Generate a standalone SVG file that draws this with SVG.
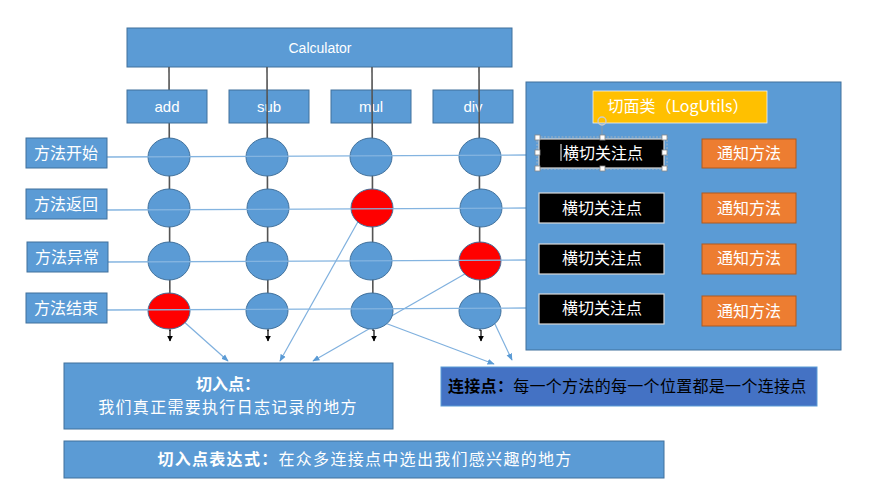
<svg xmlns="http://www.w3.org/2000/svg" width="896" height="487" viewBox="0 0 896 487">
<defs>
<style>
.box{fill:#5B9BD5;stroke:#41719C;stroke-width:1}
.ell{fill:#5B9BD5;stroke:#41719C;stroke-width:1}
.red{fill:#FF0000;stroke:#41719C;stroke-width:1}
.blk{fill:#000;stroke:#D9D9D9;stroke-width:1.2}
.org{fill:#ED7D31;stroke:#AE5A21;stroke-width:1}
.vl{stroke:#555;stroke-width:1.6;fill:none}
.hl{stroke:#84B4E0;stroke-width:1.3;fill:none}
.cn{stroke:#7FB0DE;stroke-width:1.2;fill:none;marker-end:url(#ba)}
.t{font-family:"Liberation Sans","Noto Sans CJK SC",sans-serif;fill:#fff;text-anchor:middle}
.c{font-family:"Noto Sans CJK SC","Liberation Sans",sans-serif;fill:#fff;text-anchor:middle;font-size:16px}
.h{fill:#fff;stroke:#888;stroke-width:0.8}
</style>
<marker id="ka" viewBox="0 0 10 10" refX="9" refY="5" markerWidth="5" markerHeight="5" orient="auto"><path d="M0,0L10,5L0,10z" fill="#000"/></marker>
<marker id="ba" viewBox="0 0 10 10" refX="9" refY="5" markerWidth="6" markerHeight="6" orient="auto"><path d="M0,1L10,5L0,9z" fill="#5B9BD5"/></marker>
</defs>

<g id="calculator">
<rect class="box" x="127" y="28" width="385" height="39"/>
<text class="t" x="320" y="53" font-size="14">Calculator</text>
</g>

<g id="connectors">
<line class="cn" x1="182" y1="320" x2="228" y2="361"/>
<line class="cn" x1="360" y1="218" x2="280" y2="361"/>
<line class="cn" x1="470" y1="271" x2="313" y2="361"/>
<line class="cn" x1="385" y1="323" x2="494" y2="364"/>
<line class="cn" x1="494" y1="322" x2="512" y2="360"/>
<line class="vl" x1="169" y1="67" x2="170" y2="331"/>
</g>

<g id="add"><rect class="box" x="127" y="90" width="80" height="33"/><text class="t" x="167" y="112" font-size="15">add</text></g>
<g id="sub"><rect class="box" x="229" y="90" width="80" height="33"/><text class="t" x="269" y="112" font-size="15">sub</text></g>
<g id="mul"><rect class="box" x="331" y="90" width="80" height="33"/><text class="t" x="371" y="112" font-size="15">mul</text></g>
<g id="div"><rect class="box" x="433" y="90" width="80" height="33"/><text class="t" x="473" y="112" font-size="15">div</text></g>

<g id="verticals">
<line class="vl" x1="267" y1="67" x2="268" y2="331"/>
<line class="vl" x1="372" y1="67" x2="373" y2="331"/>
<line class="vl" x1="479" y1="67" x2="480" y2="331"/>
<line stroke="#000" stroke-width="1.2" x1="170" y1="330" x2="170" y2="341" marker-end="url(#ka)"/>
<line stroke="#000" stroke-width="1.2" x1="268" y1="330" x2="268" y2="341" marker-end="url(#ka)"/>
<line stroke="#000" stroke-width="1.2" x1="374" y1="330" x2="374" y2="341" marker-end="url(#ka)"/>
<line stroke="#000" stroke-width="1.2" x1="481" y1="330" x2="481" y2="341" marker-end="url(#ka)"/>
</g>

<g id="joinpoints">
<ellipse class="ell" cx="169" cy="157" rx="21" ry="19"/>
<ellipse class="ell" cx="267" cy="157" rx="21" ry="19"/>
<ellipse class="ell" cx="371" cy="157" rx="21" ry="19"/>
<ellipse class="ell" cx="480" cy="157" rx="21" ry="19"/>
<ellipse class="ell" cx="169" cy="208" rx="21" ry="19"/>
<ellipse class="ell" cx="268" cy="208" rx="21" ry="19"/>
<ellipse class="red" cx="372" cy="208" rx="21" ry="19"/>
<ellipse class="ell" cx="481" cy="208" rx="21" ry="19"/>
<ellipse class="ell" cx="169" cy="261" rx="21" ry="19"/>
<ellipse class="ell" cx="267" cy="261" rx="21" ry="19"/>
<ellipse class="ell" cx="371" cy="261" rx="21" ry="19"/>
<ellipse class="red" cx="480" cy="261" rx="21" ry="19"/>
<ellipse class="red" cx="169" cy="311" rx="21" ry="18"/>
<ellipse class="ell" cx="267" cy="311" rx="21" ry="18"/>
<ellipse class="ell" cx="372" cy="311" rx="21" ry="18"/>
<ellipse class="ell" cx="480" cy="311" rx="21" ry="18"/>
</g>

<g id="rowlines">
<line class="hl" x1="107" y1="157" x2="526" y2="155"/>
<line class="hl" x1="107" y1="210" x2="526" y2="208"/>
<line class="hl" x1="108" y1="262" x2="526" y2="260"/>
<line class="hl" x1="107" y1="310" x2="526" y2="308"/>
</g>

<g id="row-start"><rect class="box" x="26" y="138" width="81" height="30"/><text class="c" x="66" y="159">方法开始</text></g>
<g id="row-return"><rect class="box" x="26" y="189" width="81" height="30"/><text class="c" x="66" y="210">方法返回</text></g>
<g id="row-exception"><rect class="box" x="27" y="242" width="81" height="30"/><text class="c" x="67" y="263">方法异常</text></g>
<g id="row-end"><rect class="box" x="26" y="293" width="81" height="30"/><text class="c" x="66" y="314">方法结束</text></g>

<g id="aspect">
<rect class="box" x="526" y="82" width="315" height="268"/>
<rect x="593" y="91" width="174" height="32" fill="#FFC000" stroke="#F2F2F2" stroke-width="0.8"/>
<text class="c" x="678" y="112" font-size="15">切面类（LogUtils）</text>
</g>

<g id="crosscut1">
<rect class="blk" x="539" y="139" width="125" height="29"/>
<rect x="537" y="137" width="130" height="32" fill="none" stroke="#bbb" stroke-width="0.8" stroke-dasharray="2,1.5"/>
<line x1="602" y1="126" x2="602" y2="137" stroke="#999" stroke-width="0.8"/>
<circle cx="602" cy="121" r="4" fill="none" stroke="#ccc" stroke-width="1.4"/>
<rect class="h" x="535" y="135" width="5" height="5"/><rect class="h" x="600" y="135" width="5" height="5"/><rect class="h" x="662" y="135" width="5" height="5"/>
<rect class="h" x="535" y="150" width="5" height="5"/><rect class="h" x="662" y="150" width="5" height="5"/>
<rect class="h" x="535" y="166" width="5" height="5"/><rect class="h" x="600" y="166" width="5" height="5"/><rect class="h" x="662" y="166" width="5" height="5"/>
<line x1="561" y1="144" x2="561" y2="161" stroke="#fff" stroke-width="1"/>
<text class="c" x="603" y="159">横切关注点</text>
</g>
<g id="crosscut2"><rect class="blk" x="539" y="193" width="125" height="30"/><text class="c" x="602" y="214">横切关注点</text></g>
<g id="crosscut3"><rect class="blk" x="539" y="244" width="125" height="30"/><text class="c" x="602" y="264">横切关注点</text></g>
<g id="crosscut4"><rect class="blk" x="539" y="294" width="125" height="30"/><text class="c" x="602" y="314">横切关注点</text></g>

<g id="advice1"><rect class="org" x="702" y="139" width="94" height="29"/><text class="c" x="749" y="159">通知方法</text></g>
<g id="advice2"><rect class="org" x="702" y="193" width="94" height="30"/><text class="c" x="749" y="214">通知方法</text></g>
<g id="advice3"><rect class="org" x="702" y="244" width="94" height="30"/><text class="c" x="749" y="264">通知方法</text></g>
<g id="advice4"><rect class="org" x="702" y="296" width="94" height="30"/><text class="c" x="749" y="317">通知方法</text></g>

<g id="pointcut">
<rect class="box" x="64" y="363" width="329" height="66"/>
<text class="c" x="228" y="390" font-weight="bold">切入点：</text>
<text class="c" x="228" y="413" letter-spacing="1.3">我们真正需要执行日志记录的地方</text>
</g>

<g id="joinpoint">
<rect x="441" y="367" width="376" height="39" fill="#4472C4" stroke="#5B9BD5" stroke-width="1"/>
<text x="448" y="392" font-family="'Noto Sans CJK SC','Liberation Sans',sans-serif" font-size="16" fill="#000" letter-spacing="0.3"><tspan font-weight="bold">连接点：</tspan>每一个方法的每一个位置都是一个连接点</text>
</g>

<g id="pointcut-expression">
<rect class="box" x="64" y="441" width="600" height="37"/>
<text class="c" x="365" y="465" letter-spacing="1.3"><tspan font-weight="bold">切入点表达式：</tspan>在众多连接点中选出我们感兴趣的地方</text>
</g>
</svg>
